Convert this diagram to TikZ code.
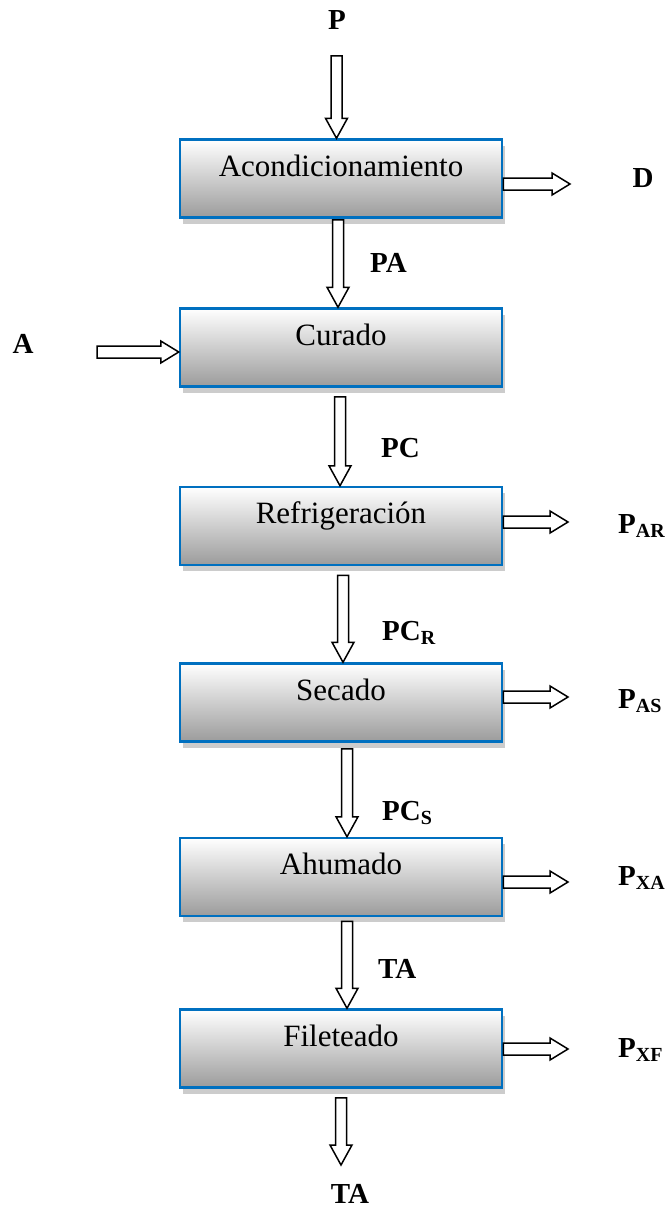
\documentclass[tikz,border=0pt]{standalone}
\usepackage{fontspec}
\setmainfont{Liberation Serif}
\usetikzlibrary{shadows,calc}
\definecolor{boxblue}{RGB}{0,112,192}
\newcommand\blockdown[2]{\draw[barrow] let \p1=(#1), \p2=(#2) in
  (\x1-5.5pt,\y1) -- (\x1+5.5pt,\y1) -- (\x1+5.5pt,\y2+20pt) -- (\x1+11pt,\y2+20pt)
  -- (\x1,\y2) -- (\x1-11pt,\y2+20pt) -- (\x1-5.5pt,\y2+20pt) -- cycle;}
\newcommand\blockright[2]{\draw[barrow] let \p1=(#1), \p2=(#2) in
  (\x1,\y1+6pt) -- (\x2-18pt,\y1+6pt) -- (\x2-18pt,\y1+11pt) -- (\x2,\y1)
  -- (\x2-18pt,\y1-11pt) -- (\x2-18pt,\y1-6pt) -- (\x1,\y1-6pt) -- cycle;}
\newcommand\subtxt[1]{\raisebox{-4pt}{\fontsize{20}{20}\selectfont #1}}
\begin{document}
\begin{tikzpicture}[x=1pt,y=-1pt,
  procbox/.style={draw=boxblue, line width=2.5pt, top color=white, bottom color=gray!78,
    minimum width=322pt, minimum height=78pt, inner sep=0pt,
    general shadow={fill=gray!40, shadow xshift=3pt, shadow yshift=-6pt}},
  boxtext/.style={anchor=base, inner sep=0pt, font=\fontsize{31}{36}\selectfont},
  lbl/.style={anchor=base, inner sep=0pt, font=\fontsize{29}{34}\selectfont\bfseries},
  lblw/.style={anchor=base west, inner sep=0pt, font=\fontsize{29}{34}\selectfont\bfseries},
  barrow/.style={draw=black, fill=white, line width=1.5pt, line join=miter}]
\useasboundingbox (0,0) rectangle (671,1207);
% boxes
\node[procbox] (b1) at (341,178.5) {};
\node[procbox] (b2) at (341,347.5) {};
\node[procbox] (b3) at (341,526) {};
\node[procbox] (b4) at (341,702.5) {};
\node[procbox] (b5) at (341,877) {};
\node[procbox] (b6) at (341,1048.5) {};
\node[boxtext] (t1) at ([yshift=-38pt]b1.north) {Acondicionamiento};
\node[boxtext] (t2) at ([yshift=-38pt]b2.north) {Curado};
\node[boxtext] (t3) at ([yshift=-38pt]b3.north) {Refrigeración};
\node[boxtext] (t4) at ([yshift=-38pt]b4.north) {Secado};
\node[boxtext] (t5) at ([yshift=-38pt]b5.north) {Ahumado};
\node[boxtext] (t6) at ([yshift=-38pt]b6.north) {Fileteado};
% free ends
\coordinate (cP) at (336.5,56);
\coordinate (cA) at (97,352);
\coordinate (cD) at (570,184);
\coordinate (cAR) at (568,522);
\coordinate (cAS) at (568,697);
\coordinate (cXA) at (568,882);
\coordinate (cXF) at (568,1049);
\coordinate (cTA) at (341,1165);
% vertical arrows
\blockdown{cP}{[xshift=-4.5pt]b1.north}
\blockdown{[xshift=-3pt,yshift=-1pt]b1.south}{[xshift=-3pt]b2.north}
\blockdown{[xshift=-1pt,yshift=-9pt]b2.south}{[xshift=-1pt]b3.north}
\blockdown{[xshift=2pt,yshift=-9pt]b3.south}{[xshift=2pt]b4.north}
\blockdown{[xshift=6pt,yshift=-6pt]b4.south}{[xshift=6pt]b5.north}
\blockdown{[xshift=6pt,yshift=-4pt]b5.south}{[xshift=6pt]b6.north}
\blockdown{[yshift=-9pt]b6.south}{cTA}
% horizontal arrows
\blockright{cA}{[yshift=-4.5pt]b2.west}
\blockright{[yshift=-5.5pt]b1.east}{cD}
\blockright{[yshift=4pt]b3.east}{cAR}
\blockright{[yshift=5.5pt]b4.east}{cAS}
\blockright{[yshift=-5pt]b5.east}{cXA}
\blockright{[yshift=-0.5pt]b6.east}{cXF}
% labels
\node[lbl] (lP) at (337,30) {P};
\node[lbl] (lD) at (643,187) {D};
\node[lbl] (lA) at (23,353) {A};
\node[lblw] (lPA) at (370,272) {PA};
\node[lblw] (lPC) at (381,457) {PC};
\node[lblw] (lPCR) at (382,640) {PC\subtxt{R}};
\node[lblw] (lPCS) at (382,820) {PC\subtxt{S}};
\node[lblw] (lTA1) at (378,978) {TA};
\node[lbl] (lTA2) at (350,1203) {TA};
\node[lblw] (lPAR) at (618,533) {P\subtxt{AR}};
\node[lblw] (lPAS) at (618,708) {P\subtxt{AS}};
\node[lblw] (lPXA) at (618,885) {P\subtxt{XA}};
\node[lblw] (lPXF) at (618,1057) {P\subtxt{XF}};
\end{tikzpicture}
\end{document}
